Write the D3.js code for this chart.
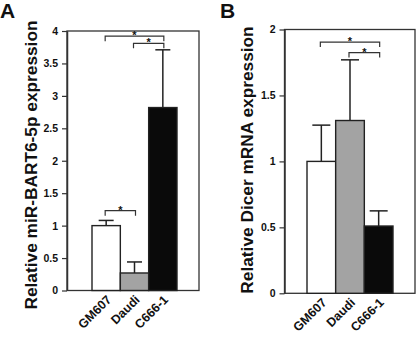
<!DOCTYPE html>
<html>
<head>
<meta charset="utf-8">
<script src="https://cdn.jsdelivr.net/npm/d3@7"></script>
<style>
  body { margin: 0; background: #fff; }
  svg { display: block; font-family: "Liberation Sans", Arial, sans-serif; }
</style>
</head>
<body>
<div id="chart"></div>
<script>
// data
const categories = ["GM607", "Daudi", "C666-1"];
const barColors = ["#ffffff", "#a3a3a3", "#0a0a0a"];

const mirValues = [1.0, 0.27, 2.82];
const mirErrors = [0.08, 0.17, 0.89];
const mirTicks = [0, 0.5, 1, 1.5, 2, 2.5, 3, 3.5, 4];
const mirTickLabels = ["0", "0.5", "1", "1.5", "2", "2.5", "3", "3.5", "4"];
// [from, to, level]
const mirSig = [["GM607", "C666-1", 3.92], ["Daudi", "C666-1", 3.81], ["GM607", "Daudi", 1.23]];

const dicerValues = [1.0, 1.31, 0.51];
const dicerErrors = [0.275, 0.46, 0.115];
const dicerTicks = [0, 0.5, 1, 1.5, 2];
const dicerTickLabels = ["0", "0.5", "1", "1.5", "2"];
const dicerSig = [["GM607", "C666-1", 1.905], ["Daudi", "C666-1", 1.825]];

const svg = d3.select('#chart')
  .append('svg')
  .attr('width', 416)
  .attr('height', 337);

function panel(opt) {
  const y = d3.scaleLinear()
    .domain([0, opt.max])
    .range([opt.bottom, opt.top]);
  const x = d3.scaleBand()
    .domain(categories)
    .range([opt.barLeft, opt.barRight])
    .padding(0);

  const g = svg.append('g');

  // frame
  g.append('rect')
    .attr('x', opt.left).attr('y', opt.top)
    .attr('width', opt.right - opt.left)
    .attr('height', opt.bottom - opt.top)
    .attr('fill', 'none')
    .attr('stroke', '#333')
    .attr('stroke-width', 1.3);

  // error bars (behind bars)
  const eb = g.selectAll('.err')
    .data(opt.values)
    .enter().append('g');
  eb.append('line')
    .attr('x1', (d, i) => x(categories[i]) + x.bandwidth() / 2)
    .attr('x2', (d, i) => x(categories[i]) + x.bandwidth() / 2)
    .attr('y1', d => y(d))
    .attr('y2', (d, i) => y(d + opt.errors[i]))
    .attr('stroke', '#222').attr('stroke-width', 1.5);
  eb.append('line')
    .attr('x1', (d, i) => x(categories[i]) + x.bandwidth() / 2 - opt.cap)
    .attr('x2', (d, i) => x(categories[i]) + x.bandwidth() / 2 + opt.cap)
    .attr('y1', (d, i) => y(d + opt.errors[i]))
    .attr('y2', (d, i) => y(d + opt.errors[i]))
    .attr('stroke', '#222').attr('stroke-width', 1.5);

  // bars
  g.selectAll('.bar')
    .data(opt.values)
    .enter().append('rect')
      .attr('x', (d, i) => x(categories[i]))
      .attr('y', d => y(d))
      .attr('width', x.bandwidth())
      .attr('height', d => opt.bottom - y(d))
      .attr('fill', (d, i) => barColors[i])
      .attr('stroke', '#222')
      .attr('stroke-width', 1.4);

  // y axis
  const yAxis = d3.axisLeft(y)
    .tickValues(opt.ticks)
    .tickFormat((d, i) => opt.tickLabels[i])
    .tickSizeInner(5)
    .tickSizeOuter(0)
    .tickPadding(4);
  const ax = g.append('g')
    .attr('transform', `translate(${opt.left},0)`)
    .call(yAxis);
  ax.select('.domain').attr('stroke', '#333').attr('stroke-width', 1.5);
  ax.selectAll('.tick line').attr('stroke', '#333').attr('stroke-width', 1.2);
  ax.selectAll('.tick text')
    .attr('font-size', 10.5).attr('font-weight', 'bold')
    .attr('font-family', '"Liberation Sans", Arial, sans-serif')
    .attr('fill', '#111');

  // x labels rotated
  g.selectAll('.xl')
    .data(categories)
    .enter().append('text')
      .attr('transform', d => `translate(${x(d) + x.bandwidth() / 2 + 6},${opt.bottom + 10}) rotate(-45)`)
      .attr('text-anchor', 'end')
      .attr('font-size', 12.5).attr('font-weight', 'bold')
      .attr('fill', '#111')
      .text(d => d);

  // significance brackets
  const sg = g.selectAll('.sig')
    .data(opt.sig)
    .enter().append('g');
  sg.append('path')
    .attr('d', d => {
      const x1 = x(d[0]) + x.bandwidth() / 2 - 1;
      const x2 = x(d[1]) + x.bandwidth() / 2 + 1;
      const yy = y(d[2]);
      return `M${x1},${yy + 5}V${yy}H${x2}V${yy + 5}`;
    })
    .attr('fill', 'none').attr('stroke', '#333').attr('stroke-width', 1.2);
  sg.append('text')
    .attr('x', d => (x(d[0]) + x(d[1]) + x.bandwidth()) / 2)
    .attr('y', d => y(d[2]) + 3)
    .attr('text-anchor', 'middle')
    .attr('font-size', 11).attr('font-weight', 'bold')
    .attr('fill', '#111')
    .text('*');

  // y title
  g.append('text')
    .attr('transform', `translate(${opt.titleX},${opt.titleY}) rotate(-90)`)
    .attr('text-anchor', 'middle')
    .attr('font-size', 17.3).attr('font-weight', 'bold')
    .attr('fill', '#111')
    .text(opt.title);

  // panel letter
  g.append('text')
    .attr('x', opt.letterX).attr('y', 17.5)
    .attr('font-size', 21).attr('font-weight', 'bold')
    .attr('fill', '#111')
    .text(opt.letter);
}

panel({
  values: mirValues, errors: mirErrors, ticks: mirTicks, tickLabels: mirTickLabels,
  sig: mirSig, max: 4,
  left: 67, right: 199, top: 31, bottom: 290.5,
  barLeft: 92, barRight: 177, cap: 7.5,
  title: "Relative miR-BART6-5p expression", titleX: 37, titleY: 165,
  letter: "A", letterX: 0
});

panel({
  values: dicerValues, errors: dicerErrors, ticks: dicerTicks, tickLabels: dicerTickLabels,
  sig: dicerSig, max: 2,
  left: 284.5, right: 415, top: 29.5, bottom: 293.3,
  barLeft: 307, barRight: 393, cap: 9,
  title: "Relative Dicer mRNA expression", titleX: 253, titleY: 160,
  letter: "B", letterX: 220
});
</script>
</body>
</html>
